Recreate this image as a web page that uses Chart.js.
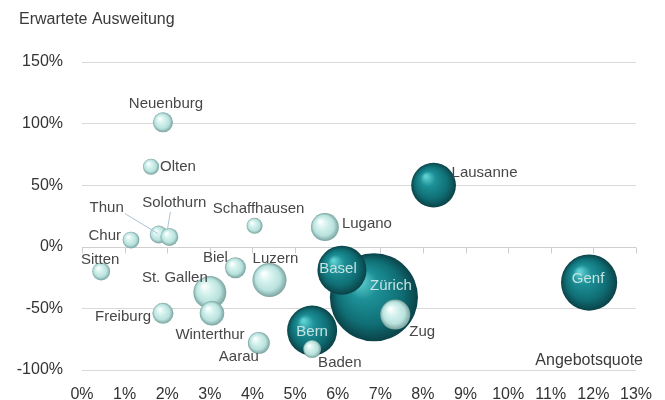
<!DOCTYPE html>
<html>
<head>
<meta charset="utf-8">
<script src="https://cdn.jsdelivr.net/npm/chart.js@4"></script>
<style>
  html, body { margin: 0; padding: 0; background: #fff; }
  #wrap { width: 665px; height: 400px; }
</style>
</head>
<body>
<div id="wrap"><canvas id="chart" width="665" height="400"></canvas></div>
<script>
// Daten
const staedte = ["Zürich", "Genf", "Bern", "Basel", "Lausanne", "Luzern", "St. Gallen", "Zug",
  "Lugano", "Winterthur", "Aarau", "Freiburg", "Biel", "Neuenburg", "Baden", "Thun",
  "Solothurn", "Sitten", "Chur", "Schaffhausen", "Olten"];
const angebotsquote = [6.85, 11.9, 5.4, 6.1, 8.25, 4.4, 3.0, 7.35,
  5.7, 3.05, 4.15, 1.9, 3.6, 1.9, 5.4, 1.8,
  2.05, 0.45, 1.15, 4.05, 1.62];
const ausweitung = [-41, -29, -68, -19, 50, -27, -37, -55,
  16, -54, -78, -54, -17, 101, -83, 10,
  8, -20, 5.5, 17, 65];
const bestand = [1940, 790, 625, 600, 500, 290, 270, 225,
  195, 150, 120, 110, 110, 100, 80, 80,
  80, 80, 70, 64, 64];
const grosszentren = ["Zürich", "Genf", "Bern", "Basel", "Lausanne"];
const xTicks = [0, 1, 2, 3, 4, 5, 6, 7, 8, 9, 10, 11, 12, 13];
const yTicks = [-100, -50, 0, 50, 100, 150];

// Beschriftung: Versatz zur Blase [dx, dy, Ausrichtung, innen]
const labelPos = {
  "Neuenburg": [3, -19, "center"],
  "Olten": [9, 0, "left"],
  "Lausanne": [18, -12, "left"],
  "Thun": [-52, -27, "center"],
  "Solothurn": [5, -34, "center"],
  "Chur": [-10, -4, "right"],
  "Sitten": [-1, -12, "center"],
  "Schaffhausen": [4, -17, "center"],
  "Lugano": [17, -3, "left"],
  "Biel": [-20, -10, "center"],
  "Luzern": [6, -21, "center"],
  "St. Gallen": [-35, -15, "center"],
  "Winterthur": [-2, 22, "center"],
  "Freiburg": [-12, 4, "right"],
  "Aarau": [-20, 14, "center"],
  "Bern": [0, 1, "center", true],
  "Baden": [6, 14, "left"],
  "Basel": [-4, -1, "center", true],
  "Zürich": [17, -11, "center", true],
  "Zug": [14, 17, "left"],
  "Genf": [-1, -4, "center", true]
};
const leaderLines = {
  "Thun": [-34, -21, -1, -1],
  "Solothurn": [1, -25, -2, -7]
};

const fontFamily = '"Liberation Sans", Arial, Helvetica, sans-serif';
Chart.defaults.font.family = fontFamily;

const punkte = staedte.map((name, i) => ({
  x: angebotsquote[i],
  y: ausweitung[i],
  r: Math.sqrt(bestand[i]),
  name: name
}));

function kugel(context) {
  const chart = context.chart;
  const raw = context.raw;
  if (!chart.chartArea || !raw) return "#cccccc";
  const x = chart.scales.x.getPixelForValue(raw.x);
  const y = chart.scales.y.getPixelForValue(raw.y);
  const r = raw.r;
  const g = chart.ctx.createRadialGradient(x - r * 0.35, y - r * 0.4, r * 0.05, x, y, r);
  if (grosszentren.includes(raw.name)) {
    g.addColorStop(0, "#5fd0d2");
    g.addColorStop(0.3, "#1d9097");
    g.addColorStop(0.72, "#0f6e74");
    g.addColorStop(1, "#0a4247");
  } else {
    g.addColorStop(0, "#ffffff");
    g.addColorStop(0.3, "#d9f4f0");
    g.addColorStop(0.72, "#b9e2de");
    g.addColorStop(1, "#7aa3a0");
  }
  return g;
}

// Nulllinie mit Teilstrichen
const zeroAxis = {
  id: "zeroAxis",
  beforeDatasetsDraw(chart) {
    const ctx = chart.ctx;
    const xs = chart.scales.x;
    const y0 = Math.round(chart.scales.y.getPixelForValue(0)) + 0.5;
    ctx.save();
    ctx.strokeStyle = "#cfcfcf";
    ctx.lineWidth = 1;
    ctx.beginPath();
    ctx.moveTo(xs.left, y0);
    ctx.lineTo(xs.right, y0);
    xTicks.forEach((v) => {
      const px = Math.round(xs.getPixelForValue(v)) + 0.5;
      ctx.moveTo(px, y0);
      ctx.lineTo(px, y0 + 6);
    });
    ctx.stroke();
    ctx.restore();
  }
};

const labelPlugin = {
  id: "cityLabels",
  afterDatasetsDraw(chart) {
    const ctx = chart.ctx;
    const meta = chart.getDatasetMeta(0);
    ctx.save();
    ctx.font = "15px " + fontFamily;
    ctx.textBaseline = "middle";
    meta.data.forEach((el, i) => {
      const raw = chart.data.datasets[0].data[i];
      const pos = labelPos[raw.name] || [0, 0, "center"];
      const line = leaderLines[raw.name];
      if (line) {
        ctx.strokeStyle = "#a9c3dc";
        ctx.lineWidth = 1;
        ctx.beginPath();
        ctx.moveTo(el.x + line[0], el.y + line[1]);
        ctx.lineTo(el.x + line[2], el.y + line[3]);
        ctx.stroke();
      }
      ctx.fillStyle = pos[3] ? "#c4e3e2" : "#474747";
      ctx.textAlign = pos[2];
      ctx.fillText(raw.name, el.x + pos[0], el.y + pos[1]);
    });
    ctx.font = "16px " + fontFamily;
    ctx.fillStyle = "#3a3a3a";
    ctx.textAlign = "left";
    ctx.fillText("Erwartete Ausweitung", 19, 20);
    ctx.textAlign = "right";
    ctx.fillText("Angebotsquote", chart.chartArea.right + 7, 361);
    ctx.restore();
  }
};

new Chart(document.getElementById("chart"), {
  type: "bubble",
  data: {
    datasets: [{
      data: punkte,
      backgroundColor: kugel,
      borderWidth: 0,
      hoverBorderWidth: 0
    }]
  },
  options: {
    responsive: false,
    animation: false,
    events: [],
    layout: { autoPadding: false, padding: { left: 0, right: 29, top: 62, bottom: 0 } },
    plugins: { legend: { display: false }, tooltip: { enabled: false } },
    scales: {
      x: {
        type: "linear",
        position: "bottom",
        min: 0,
        max: 13,
        afterBuildTicks: (s) => { s.ticks = xTicks.map((v) => ({ value: v })); },
        afterFit: (s) => { s.height = 30; },
        grid: { display: false },
        border: { display: false },
        ticks: {
          padding: 7,
          color: "#333333",
          font: { size: 16 },
          callback: (v) => v + "%"
        }
      },
      y: {
        type: "linear",
        min: -100,
        max: 150,
        afterBuildTicks: (s) => { s.ticks = yTicks.map((v) => ({ value: v })); },
        afterFit: (s) => { s.width = 82; },
        grid: {
          color: (c) => (c.tick && c.tick.value === 0 ? "rgba(0,0,0,0)" : "#d9d9d9"),
          drawTicks: false
        },
        border: { display: false },
        ticks: {
          padding: 19,
          color: "#333333",
          font: { size: 16 },
          callback: (v) => v + "%"
        }
      }
    }
  },
  plugins: [zeroAxis, labelPlugin]
});
</script>
</body>
</html>
